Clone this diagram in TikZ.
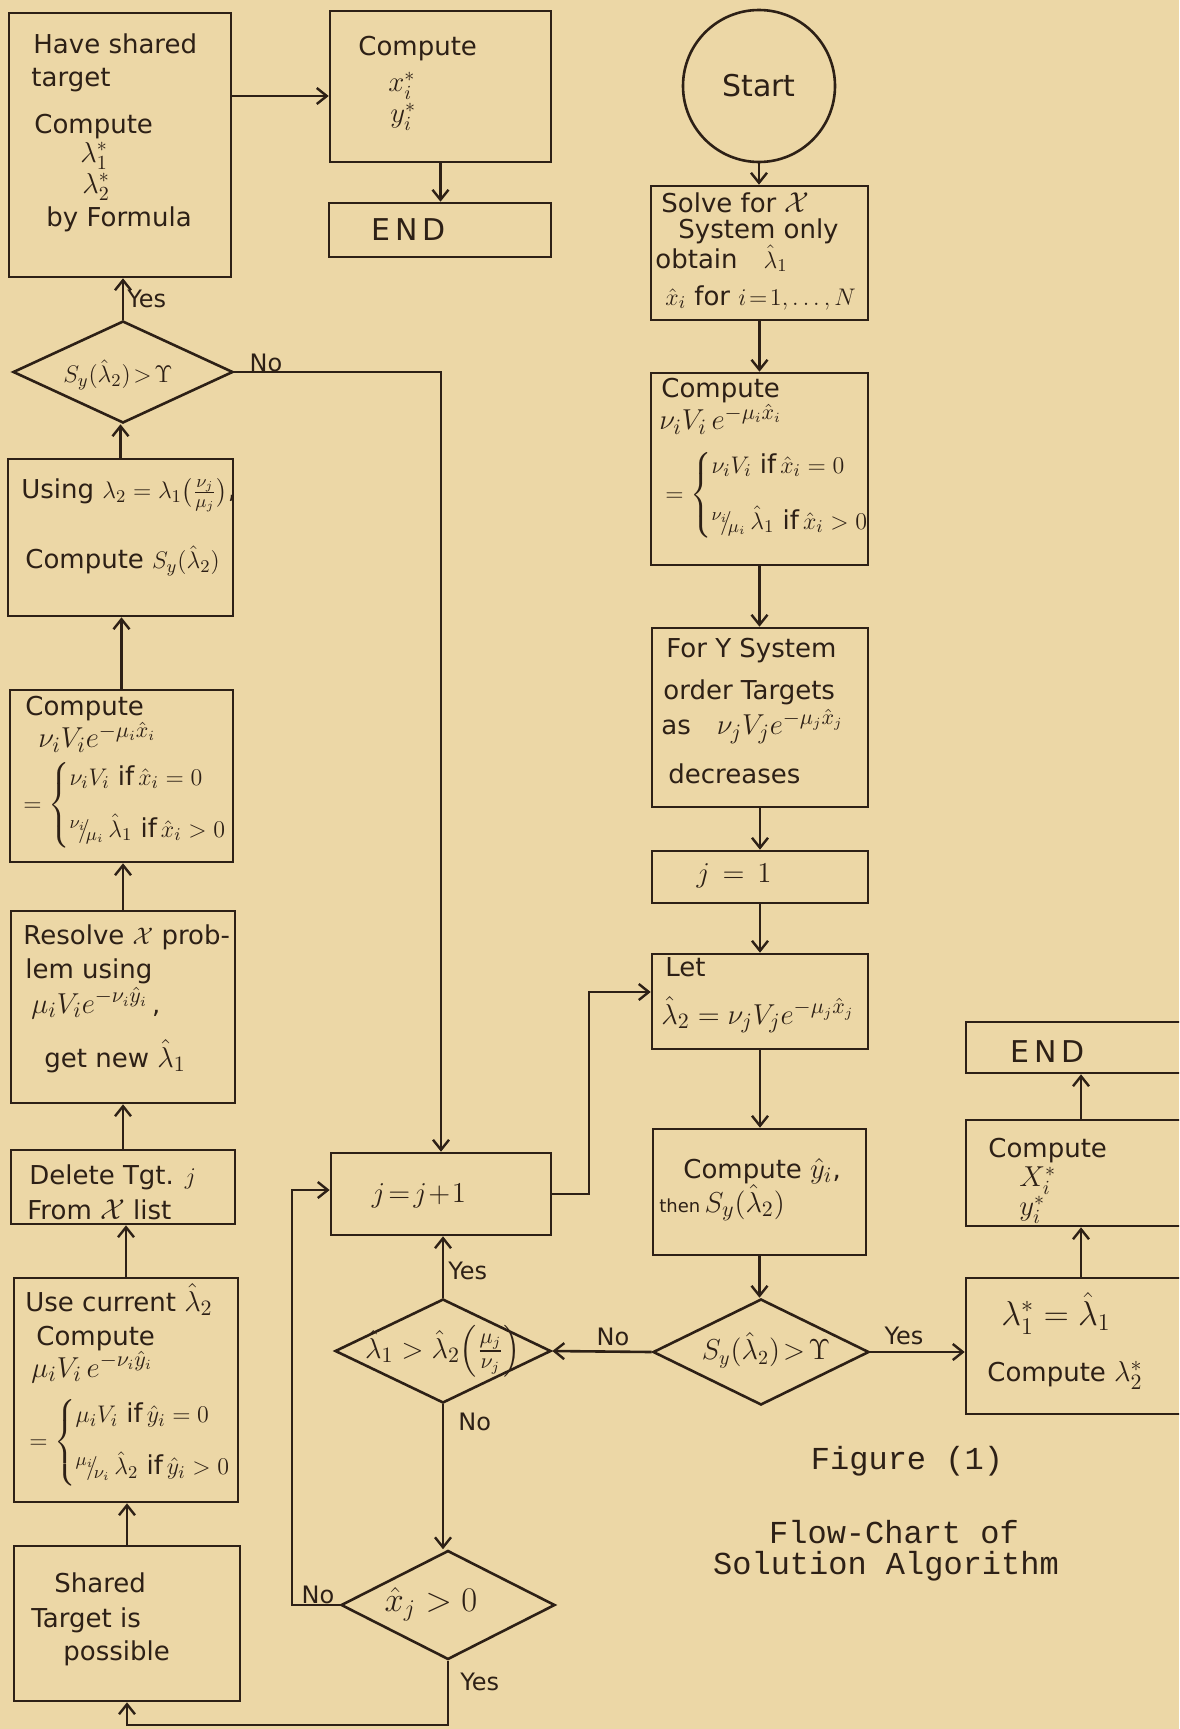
\documentclass[tikz,border=0pt]{standalone}
\usepackage{amsmath}
\usepackage[no-math]{fontspec}
\setmainfont{DejaVu Sans}
\newfontfamily\typew{Liberation Mono}
\usetikzlibrary{arrows.meta,shapes.geometric,calc}
\definecolor{paper}{RGB}{236,215,166}
\definecolor{ink}{RGB}{45,32,22}
\newcommand{\slfrac}[2]{{}^{#1}\!\!/\!{}_{#2}}
\newcommand{\hand}{\fontsize{13}{15}\selectfont\lineskiplimit=-100pt\relax}
\newcommand{\mth}[1]{{\fontsize{15}{15}\selectfont$#1$}}
\newcommand{\mths}[1]{{\fontsize{14}{15}\selectfont$#1$}}
\newcommand{\brc}[1]{{\lineskiplimit=0pt\lineskip=1pt$=\left\{\begin{array}{@{}l@{}}#1\end{array}\right.$}}
\begin{document}
\begin{tikzpicture}[x=0.5pt,y=-0.5pt,
  sz/.style 2 args={minimum width=#1*0.5pt, minimum height=#2*0.5pt},
  box/.style={draw=ink, line width=1.3pt, rectangle, inner sep=0pt},
  dia/.style={draw=ink, line width=1.3pt, diamond, inner sep=0pt},
  txt/.style={inner sep=0pt, anchor=north west, align=left, font=\hand, text=ink},
  txb/.style={inner sep=0pt, anchor=base west, font=\fontsize{15}{18}\selectfont, text=ink},
  dtxt/.style={inner sep=0pt, font=\fontsize{15}{18}\selectfont, text=ink},
  lbl/.style={inner sep=0pt, font=\fontsize{12}{14}\selectfont, text=ink},
  captxt/.style={inner sep=0pt, font={\typew\fontsize{16}{19}\selectfont}, text=ink},
  arr/.style={draw=ink, line width=1.3pt, -{Straight Barb[length=5pt,width=8pt,line width=1.2pt]}}]
\fill[paper] (0,0) rectangle (1179,1729);
\useasboundingbox (0,0) rectangle (1179,1729);
\begin{scope}
\clip (0,0) rectangle (1179,1729);
% boxes
\node[box, sz={222}{264}] (A) at (120,145) {};
\node[box, sz={221}{151}] (B) at (440.5,86.5) {};
\node[box, sz={222}{54}] (C) at (440,230) {};
\node[draw=ink, line width=1.3pt, circle, minimum size=76pt, inner sep=0pt, font=\fontsize{15}{18}\selectfont, text=ink] (Start) at (759,86) {Start};
\node[box, sz={217}{134}] (D) at (759.5,253) {};
\node[box, sz={217}{192}] (E) at (759.5,469) {};
\node[box, sz={216}{179}] (F) at (760,717.5) {};
\node[box, sz={216}{52}] (G) at (760,877) {};
\node[box, sz={216}{95}] (H) at (760,1001.5) {};
\node[box, sz={213}{126}] (I) at (759.5,1192) {};
\node[dia, sz={216}{106}] (J) at (761,1352) {};
\node[box, sz={230}{136}] (K) at (1081,1346) {};
\node[box, sz={230}{106}] (L) at (1081,1173) {};
\node[box, sz={230}{51}] (M) at (1081,1047.5) {};
\node[box, sz={220}{82}] (N) at (441,1194) {};
\node[dia, sz={216}{104}] (O) at (443,1351) {};
\node[dia, sz={214}{109}] (P) at (448,1605) {};
\node[box, sz={226}{155}] (Q) at (127,1623.5) {};
\node[box, sz={224}{224}] (R) at (126,1390) {};
\node[box, sz={224}{74}] (S) at (123,1187) {};
\node[box, sz={224}{192}] (T) at (123,1007) {};
\node[box, sz={223}{172}] (U) at (121.5,776) {};
\node[box, sz={225}{157}] (V) at (120.5,537.5) {};
\node[dia, sz={220}{102}] (W) at (123,372) {};
\coordinate (lp) at (292,1190);
\coordinate (bt) at (0,1725);
\coordinate (rn) at (589,992);
% connectors
\draw[arr] ([yshift=24.5pt]A.east) coordinate (a0) -- (a0 -| B.west);
\draw[arr] (B.south) -- (B.south |- C.north);
\draw[arr] (Start.south) -- (Start.south |- D.north);
\draw[arr] (D.south) -- (D.south |- E.north);
\draw[arr] (E.south) -- (E.south |- F.north);
\draw[arr] (F.south) -- (F.south |- G.north);
\draw[arr] (G.south) -- (G.south |- H.north);
\draw[arr] (H.south) -- (H.south |- I.north);
\draw[arr] (I.south) -- (I.south |- J.north);
\draw[arr] (J.east) -- (J.east -| K.west);
\draw[arr] (J.west) -- (O.east);
\draw[arr] (O.north) -- (O.north |- N.south);
\draw[arr] (O.south) -- (O.south |- P.north);
\draw[arr] (P.west) -- (P.west -| lp) -- (lp) -- (lp -| N.west);
\draw[arr] (P.south) -- (P.south |- bt) -- (bt -| Q.south) -- (Q.south);
\draw[arr] (Q.north) -- (Q.north |- R.south);
\draw[arr] (R.north) -- (R.north |- S.south);
\draw[arr] (S.north) -- (S.north |- T.south);
\draw[arr] (T.north) -- (T.north |- U.south);
\draw[arr] (U.north) -- (U.north |- V.south);
\draw[arr] (V.north) -- (V.north |- W.south);
\draw[arr] (W.north) -- (W.north |- A.south);
\draw[arr] (W.east) -- (W.east -| N.north) -- (N.north);
\draw[arr] (N.east) -| (rn) -- (rn -| H.west);
\draw[arr] (K.north) -- (K.north |- L.south);
\draw[arr] (L.north) -- (L.north |- M.south);
% texts
\node[txt] (At) at (31,33) {\hspace*{1pt}Have shared\\[1.5pt]target\\[8.5pt]\hspace*{1.5pt}Compute\\[-0.5pt]\hspace*{24.5pt}\mths{\lambda_1^*}\\[0.5pt]\hspace*{25.5pt}\mths{\lambda_2^*}\\[1.5pt]\hspace*{7.5pt}by Formula};
\node[txt] (Bt) at (357,36) {\hspace*{0.5pt}Compute\\[3pt]\hspace*{15.5pt}\mths{x_i^*}\\[0.5pt]\hspace*{16.5pt}\mths{y_i^*}};
\node[txb] (Ct) at (371,240) {E\,N\,D};
\node[txt] (Dt) at (655,192) {\hspace*{3pt}Solve for \mth{\mathcal{X}}\\[-2pt]\hspace*{11.5pt}System only\\[0pt]obtain\quad$\hat{\lambda}_1$\\[3.5pt]\hspace*{5pt}$\hat{x}_i$ for $i\!=\!1,\ldots,N$};
\node[txt] (Et) at (659,378) {\hspace*{1pt}Compute\\[1pt]\mth{\nu_i V_i\, e^{-\mu_i\hat{x}_i}}\\[20.75pt]\hspace*{3pt}\brc{\nu_i V_i\ \text{if}\,\hat{x}_i=0\\[12pt]\slfrac{\nu_i}{\mu_i}\,\hat{\lambda}_1\ \text{if}\,\hat{x}_i>0}};
\node[txt] (Ft) at (661,638) {\hspace*{2.5pt}For Y System\\[6pt]\hspace*{1pt}order Targets\\[2.5pt]as\quad\mth{\nu_j V_j e^{-\mu_j\hat{x}_j}}\\[9.5pt]\hspace*{3.5pt}decreases};
\node[dtxt] (Gt) at (734,876) {$j\,=\,1$};
\node[txt] (Ht) at (661,957) {\hspace*{2pt}Let\\[9pt]\mth{\hat{\lambda}_2=\nu_j V_j e^{-\mu_j\hat{x}_j}}};
\node[txt] (It) at (659,1158) {\hspace*{12pt}Compute \mth{\hat{y}_i},\\[2pt]{\fontsize{9}{10}\selectfont then}\,\mth{S_y(\hat{\lambda}_2)}};
\node[dtxt, font=\fontsize{14}{16}\selectfont] (Jt) at (766,1350) {$S_y(\hat{\lambda}_2)\!>\!\Upsilon$};
\node[txt] (Kt) at (987,1292) {\hspace*{7pt}{\fontsize{17}{15}\selectfont$\lambda_1^*=\hat{\lambda}_1$}\\[13pt]Compute \mth{\lambda_2^*}};
\node[txt] (Lt) at (988,1138) {Compute\\[-0.5pt]\hspace*{15.5pt}\mths{X_i^*}\\[-0.5pt]\hspace*{15.5pt}\mths{y_i^*}};
\node[txb] (Mt) at (1010,1062) {E\,N\,D};
\node[dtxt] (Nt) at (419,1196) {$j\!=\!j\!+\!1$};
\node[dtxt] (Ot) at (443,1351) {$\hat{\lambda}_1>\hat{\lambda}_2\Bigl(\frac{\mu_j}{\nu_j}\Bigr)$};
\node[dtxt, font=\fontsize{17}{20}\selectfont] (Pt) at (431,1604) {$\hat{x}_j>0$};
\node[txt] (Qt) at (31,1572) {\hspace*{11.5pt}Shared\\[2.5pt]Target is\\[1.5pt]\hspace*{16pt}possible};
\node[txt] (Rt) at (25,1283) {Use current \mth{\hat{\lambda}_2}\\[2pt]\hspace*{5.5pt}Compute\\[1pt]\hspace*{3pt}\mth{\mu_i V_i\, e^{-\nu_i\hat{y}_i}}\\[20.75pt]\hspace*{2pt}\brc{\mu_i V_i\ \text{if}\,\hat{y}_i=0\\[10pt]\slfrac{\mu_i}{\nu_i}\,\hat{\lambda}_2\ \text{if}\,\hat{y}_i>0}};
\node[txt] (St) at (27,1164) {\hspace*{1pt}Delete Tgt. $j$\\[2.5pt]From \mth{\mathcal{X}} list};
\node[txt] (Tt) at (23,924) {Resolve $\mathcal{X}$ prob-\\[2pt]\hspace*{1pt}lem using\\[2.5pt]\hspace*{4pt}\mth{\mu_i V_i e^{-\nu_i\hat{y}_i}}\,,\\[12pt]\hspace*{10.5pt}get new \mth{\hat{\lambda}_1}};
\node[txt] (Ut) at (21,696) {\hspace*{2pt}Compute\\[1pt]\hspace*{8.5pt}\mth{\nu_i V_i e^{-\mu_i\hat{x}_i}}\\[16.75pt]\hspace*{1pt}\brc{\nu_i V_i\ \text{if}\,\hat{x}_i=0\\[10pt]\slfrac{\nu_i}{\mu_i}\,\hat{\lambda}_1\ \text{if}\,\hat{x}_i>0}};
\node[txt] (Vt) at (21,478) {Using $\lambda_2=\lambda_1\bigl(\frac{\nu_j}{\mu_j}\bigr)$,\\[20pt]\hspace*{2pt}Compute $S_y(\hat{\lambda}_2)$};
\node[dtxt, font=\fontsize{13}{16}\selectfont] (Wt) at (118,375) {$S_y(\hat{\lambda}_2)\!>\!\Upsilon$};
% labels
\node[lbl, anchor=west] (yA) at (127,299) {Yes};
\node[lbl] (nW) at (266,363) {No};
\node[lbl, anchor=west] (yN) at (448,1271) {Yes};
\node[lbl] (nJ) at (613,1337) {No};
\node[lbl] (yK) at (904,1336) {Yes};
\node[lbl, anchor=west] (nO) at (458,1422) {No};
\node[lbl] (nP) at (318,1595) {No};
\node[lbl, anchor=west] (yP) at (460,1682) {Yes};
% caption
\node[captxt] (fig) at (907,1461) {Figure (1)};
\node[captxt] (fc1) at (894,1532) {Flow-Chart of};
\node[captxt] (fc2) at (886,1566) {Solution Algorithm};
\end{scope}
\end{tikzpicture}
\end{document}
